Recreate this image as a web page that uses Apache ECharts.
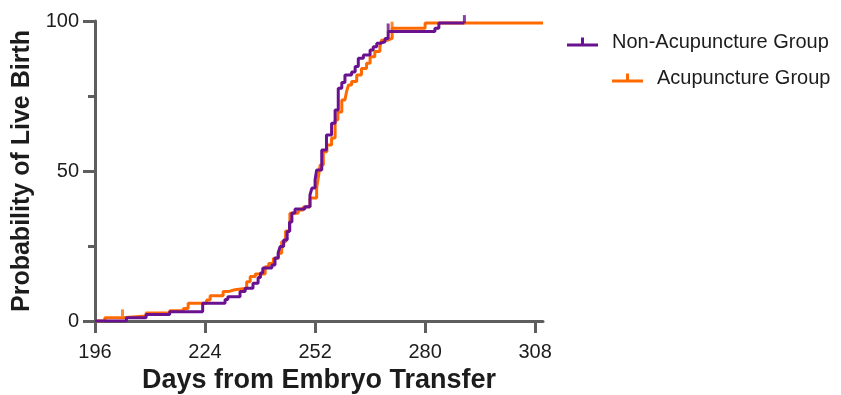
<!DOCTYPE html>
<html>
<head>
<meta charset="utf-8">
<script src="https://cdn.jsdelivr.net/npm/echarts@6/dist/echarts.min.js"></script>
<style>
  html, body { margin: 0; padding: 0; background: #fff; }
  #chart { width: 841px; height: 395px; }
</style>
</head>
<body>
<div id="chart"></div>
<script>
// Kaplan-Meier style step curves (days from transfer, cumulative %)
const nonAcuDays = [196, 204, 209, 215, 223.4, 229.1, 229.8, 232.9, 234.2, 236.2, 237.5, 238.1, 238.7, 241, 241.8, 242.6, 243.1, 244, 244.9, 245.5, 246.1, 246.9, 249.4, 250.7, 251.2, 252, 252.4, 253.7, 254.9, 256.2, 257.1, 257.9, 258.8, 259.6, 261.3, 262.2, 263, 264.3, 266, 266.8, 267.7, 268.5, 269.8, 270.6, 282.5, 283.5, 290];
const nonAcuPct = [0, 1.1, 2.2, 3.1, 5.9, 7.2, 8.1, 9.8, 10.9, 12.6, 14.5, 16, 17.7, 18.7, 21, 22.7, 24.8, 27, 29.8, 33, 36, 37.3, 38.1, 42, 44.3, 47, 50.3, 57, 62, 65.9, 70.3, 77.6, 79.5, 82, 83, 84.8, 87.6, 88.7, 90.3, 91.4, 92.6, 93.1, 94.2, 96.5, 97.6, 99.3, 99.3];

const acuDays = [196, 198.5, 203, 209, 215, 218.5, 219.7, 224.4, 225.3, 228.6, 229.9, 231.6, 234.6, 235.5, 236.8, 239.3, 240.2, 241.4, 242.7, 243.5, 244.5, 245.6, 247.7, 249, 250.7, 252.4, 252.8, 253.3, 254.1, 255, 256.2, 257.1, 257.8, 258.8, 259.6, 260, 260.5, 261.3, 262.6, 263.8, 265.1, 266, 267.2, 268.5, 268.9, 270.5, 271.6, 280, 310];
const acuPct = [0, 1.1, 1.7, 2.7, 3.4, 4.2, 5.9, 7, 8.4, 9.8, 10.4, 10.9, 13.1, 14.8, 15.7, 18.1, 19.2, 20.9, 22.6, 26.4, 30, 35.9, 37, 38, 41, 44.3, 47.7, 52, 56.4, 58.7, 61, 67, 69.7, 73.7, 74.2, 76.4, 78.7, 79.8, 82, 84.2, 85.9, 88.1, 89.8, 91.4, 93.6, 94.2, 97.6, 99.3, 99.3];

// censored observations (tick marks)
const nonAcuCensorDays = [270.6, 290];
const nonAcuCensorPct = [96.5, 99.3];
const acuCensorDays = [203, 271.6];
const acuCensorPct = [1.7, 97.6];

const xTicks = [196, 224, 252, 280, 308];
const yLabels = [0, 50, 100];

const PURPLE = '#6a1190';
const ORANGE = '#ff6a00';
const AXIS = '#5e5e5e';
const TEXT = '#1c1c1c';
const FONT = 'Liberation Sans, Arial, sans-serif';

const zip = (xs, ys) => xs.map((x, i) => [x, ys[i]]);
const legendIcon = 'path://M0,6 h31 v3 h-31 Z M14,0 h3 v7 h-3 Z';

const chart = echarts.init(document.getElementById('chart'));

chart.setOption({
  animation: false,
  grid: { left: 95, right: 298, top: 21, bottom: 74, containLabel: false, outerBoundsMode: 'none' },
  legend: [
    {
      data: ['Non-Acupuncture Group'],
      left: 562, top: 27,
      icon: legendIcon, itemWidth: 31, itemHeight: 9,
      textStyle: { fontFamily: FONT, fontSize: 20, color: TEXT, padding: [0, 0, 0, 9] }
    },
    {
      data: ['Acupuncture Group'],
      left: 607, top: 63,
      icon: legendIcon, itemWidth: 31, itemHeight: 9,
      textStyle: { fontFamily: FONT, fontSize: 20, color: TEXT, padding: [0, 0, 0, 9] }
    }
  ],
  xAxis: {
    type: 'value',
    min: 196, max: 310,
    name: 'Days from Embryo Transfer',
    nameLocation: 'middle',
    nameGap: 46,
    nameTextStyle: { fontFamily: FONT, fontSize: 27, fontWeight: 'bold', color: TEXT },
    axisLine: { show: true, onZero: false, lineStyle: { color: AXIS, width: 3 } },
    axisTick: { show: true, length: 12, customValues: xTicks, lineStyle: { color: AXIS, width: 3 } },
    axisLabel: { customValues: xTicks, margin: 21, fontFamily: FONT, fontSize: 20, color: TEXT },
    splitLine: { show: false }
  },
  yAxis: {
    type: 'value',
    min: 0, max: 100, interval: 50,
    name: 'Probability of Live Birth',
    nameLocation: 'middle',
    nameGap: 56,
    nameTextStyle: { fontFamily: FONT, fontSize: 25, fontWeight: 'bold', color: TEXT },
    axisLine: { show: true, lineStyle: { color: AXIS, width: 3 } },
    axisTick: { show: true, length: 12, lineStyle: { color: AXIS, width: 3 } },
    minorTick: { show: true, splitNumber: 2, length: 7, lineStyle: { color: AXIS, width: 3 } },
    axisLabel: { customValues: yLabels, margin: 16, fontFamily: FONT, fontSize: 20, color: TEXT },
    splitLine: { show: false },
    minorSplitLine: { show: false }
  },
  series: [
    {
      name: 'Acupuncture Group',
      type: 'line',
      step: 'end',
      showSymbol: false,
      data: zip(acuDays, acuPct),
      itemStyle: { color: ORANGE },
      lineStyle: { color: ORANGE, width: 3 },
      z: 2
    },
    {
      name: 'Non-Acupuncture Group',
      type: 'line',
      step: 'end',
      showSymbol: false,
      data: zip(nonAcuDays, nonAcuPct),
      itemStyle: { color: PURPLE },
      lineStyle: { color: PURPLE, width: 3 },
      z: 3
    },
    {
      name: 'acu-censor',
      type: 'scatter',
      symbol: 'rect',
      symbolSize: [3, 7],
      symbolOffset: [0, -3],
      data: zip(acuCensorDays, acuCensorPct),
      itemStyle: { color: ORANGE },
      z: 2
    },
    {
      name: 'nonacu-censor',
      type: 'scatter',
      symbol: 'rect',
      symbolSize: [3, 8],
      symbolOffset: [0, -4],
      data: zip(nonAcuCensorDays, nonAcuCensorPct),
      itemStyle: { color: PURPLE },
      z: 3
    }
  ]
});
</script>
</body>
</html>
